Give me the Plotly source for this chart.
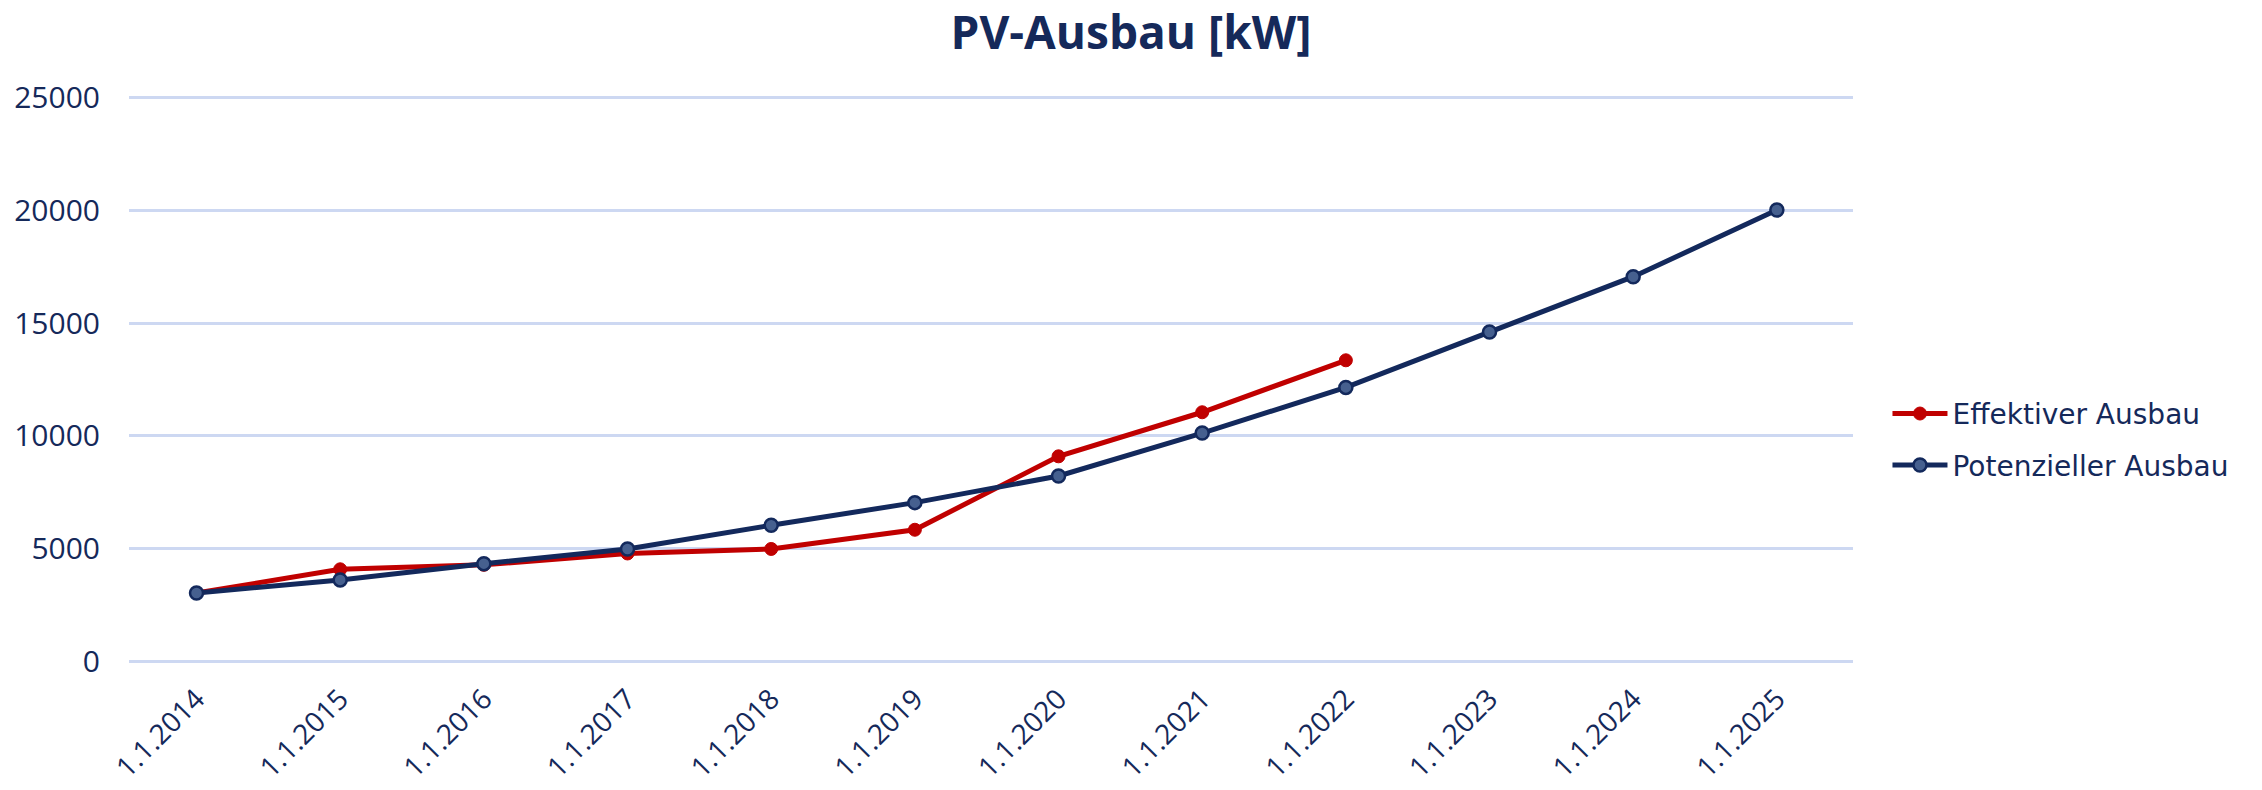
import plotly.graph_objects as go

categories = ["1.1.2014", "1.1.2015", "1.1.2016", "1.1.2017", "1.1.2018", "1.1.2019",
              "1.1.2020", "1.1.2021", "1.1.2022", "1.1.2023", "1.1.2024", "1.1.2025"]
effektiv = [3050, 4100, 4300, 4800, 5000, 5850, 9100, 11050, 13350, None, None, None]
potenziell = [3050, 3630, 4350, 5000, 6050, 7050, 8230, 10130, 12150, 14600, 17050, 20000]
y_ticks = [0, 5000, 10000, 15000, 20000, 25000]

NAVY = "#13295c"
RED = "#c00000"
TXT = "#15295a"

fig = go.Figure()
fig.add_trace(go.Scatter(
    x=categories, y=effektiv, name="Effektiver Ausbau", mode="lines+markers",
    legendgroup="eff",
    line=dict(color=RED, width=5),
    marker=dict(color=RED, size=13, line=dict(color=RED, width=1)),
))
fig.add_trace(go.Scatter(
    x=categories, y=potenziell, name="Potenzieller Ausbau", mode="lines+markers",
    legendgroup="pot",
    line=dict(color=NAVY, width=5),
    marker=dict(color="#46608f", size=13, line=dict(color=NAVY, width=2.5)),
))

fig.update_layout(
    width=2262, height=790,
    paper_bgcolor="white", plot_bgcolor="white",
    margin=dict(l=129, r=409, t=93, b=124, autoexpand=False),
    title=dict(text="<b>PV-Ausbau [kW]</b>", x=1131/2262, xanchor="center",
               y=1 - 33/790, yanchor="middle",
               font=dict(family="Open Sans", size=46, color=TXT)),
    font=dict(family="Open Sans", color=TXT),
    legend=dict(x=1.020, xanchor="left", y=0.3956, yanchor="middle",
                font=dict(family="DejaVu Sans", size=28, color=TXT),
                tracegroupgap=12, itemwidth=55, bgcolor="rgba(0,0,0,0)"),
    showlegend=True,
)
fig.update_xaxes(
    type="category", range=[-0.47, 11.53], tickangle=-45, automargin=False,
    showgrid=False, showline=False, zeroline=False, ticks="",
    ticklabelstandoff=10,
    tickfont=dict(family="Open Sans", size=28, color=TXT),
)
fig.update_yaxes(
    range=[-180, 25180], tickvals=y_ticks, ticktext=[str(v) for v in y_ticks],
    showgrid=True, gridcolor="#cdd8f2", gridwidth=2.5, zeroline=False,
    showline=False, ticks="", ticklabelstandoff=28, automargin=False,
    tickfont=dict(family="Open Sans", size=30, color=TXT),
)

fig.write_html(
    "out.html",
    config={"displayModeBar": False},
    post_script="document.body.style.margin='0';document.body.style.overflow='hidden';",
)
